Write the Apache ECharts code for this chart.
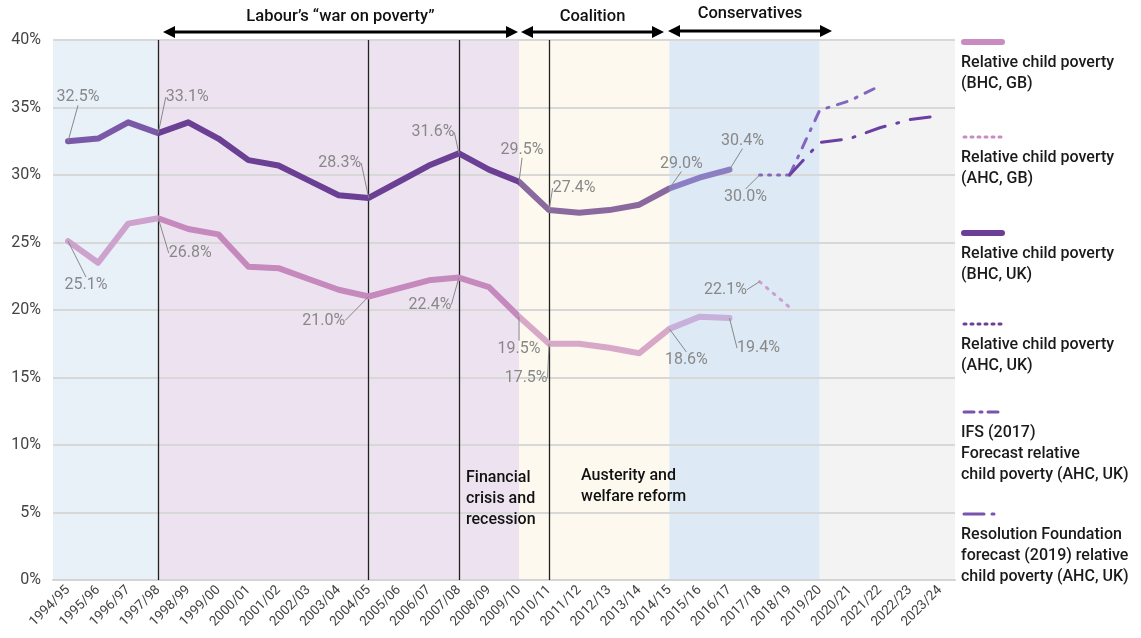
<!DOCTYPE html>
<html>
<head>
<meta charset="utf-8">
<script src="https://cdn.jsdelivr.net/npm/echarts@6/dist/echarts.min.js"></script>
<style>
  html, body { margin: 0; padding: 0; background: #fff; }
  #chart { width: 1141px; height: 638px; }
</style>
</head>
<body>
<div id="chart"></div>
<script>
// 年份
const years = ['1994/95','1995/96','1996/97','1997/98','1998/99','1999/00','2000/01','2001/02',
  '2002/03','2003/04','2004/05','2005/06','2006/07','2007/08','2008/09','2009/10','2010/11',
  '2011/12','2012/13','2013/14','2014/15','2015/16','2016/17','2017/18','2018/19','2019/20',
  '2020/21','2021/22','2022/23','2023/24']

const yTicks = [0, 5, 10, 15, 20, 25, 30, 35, 40]

// 数据 (%)
const bhcGB = [25.1, 23.5, 26.4, 26.8, 26.0, 25.6, 23.2, 23.1, 22.3, 21.5, 21.0, 21.6, 22.2, 22.4,
  21.7, 19.5, 17.5, 17.5, 17.2, 16.8, 18.6, 19.5, 19.4, null, null, null, null, null, null, null]
const ahcGB = [null, null, null, null, null, null, null, null, null, null, null, null, null, null,
  null, null, null, null, null, null, null, null, null, 22.1, 20.2, null, null, null, null, null]
const bhcUK = [32.5, 32.7, 33.9, 33.1, 33.9, 32.7, 31.1, 30.7, 29.6, 28.5, 28.3, 29.5, 30.7, 31.6,
  30.4, 29.5, 27.4, 27.2, 27.4, 27.8, 29.0, 29.8, 30.4, null, null, null, null, null, null, null]
const ahcUK = [null, null, null, null, null, null, null, null, null, null, null, null, null, null,
  null, null, null, null, null, null, null, null, null, 30.0, 30.0, null, null, null, null, null]
const ifsForecast = [null, null, null, null, null, null, null, null, null, null, null, null, null, null,
  null, null, null, null, null, null, null, null, null, null, 30.0, 34.8, 35.5, 36.6, null, null]
const rfForecast = [null, null, null, null, null, null, null, null, null, null, null, null, null, null,
  null, null, null, null, null, null, null, null, null, null, 30.0, 32.4, 32.7, 33.5, 34.1, 34.4]

// 标注的点及其偏移
const bhcGBLabels = { 0: [18, 44], 3: [32, 35], 10: [-45, 24], 13: [-29, 27], 15: [0, 32], 16: [-23, 34], 20: [17, 31], 22: [29, 30] }
const bhcUKLabels = { 0: [10, -44], 3: [29, -36], 10: [-29, -35], 13: [-26, -21], 15: [3, -32], 16: [25, -22], 20: [12, -25], 22: [13, -29] }
const ahcGBLabels = { 23: [-34, 8] }
const ahcUKLabels = { 23: [-14, 22] }

// 背景时期 (以类目索引计)
const periodEdges = [-0.5, 3, 15, 20, 25, 29.5]
const periodColors = ['#e8f0f8', '#ede3f0', '#fdf9ef', '#dde9f4', '#f3f3f3']
const eventLines = ['1997/98', '2004/05', '2007/08', '2010/11']

const chart = echarts.init(document.getElementById('chart'), null, { renderer: 'canvas' })
const FONT = 'Roboto, "Noto Sans", sans-serif'

const withLabels = (values, labels) => values.map((v, i) =>
  labels[i] ? { value: v, label: { show: true } } : v)

const labelOpts = {
  show: false,
  position: 'inside',
  formatter: (p) => p.value.toFixed(1) + '%',
  color: '#888',
  fontSize: 16,
  fontFamily: FONT
}
const labelLineOpts = { show: true, lineStyle: { color: '#888', width: 1 } }
const layoutFor = (labels) => (params) => {
  const o = labels[params.dataIndex]
  return o ? { dx: o[0], dy: o[1] } : {}
}

const lineSeries = (name, values, labels, style, z) => ({
  name,
  type: 'line',
  data: withLabels(values, labels),
  xAxisIndex: 0,
  symbol: 'circle',
  symbolSize: 0.01,
  connectNulls: false,
  lineStyle: style,
  label: labelOpts,
  labelLine: labelLineOpts,
  labelLayout: layoutFor(labels),
  z
})

const periodAreas = periodColors.map((c, i) => [
  { xAxis: periodEdges[i], itemStyle: { color: c } },
  { xAxis: periodEdges[i + 1] }
])

// 图例
const legendItems = [
  { y: 42, color: '#c98cc0', dash: null, width: 6, text: 'Relative child poverty\n(BHC, GB)' },
  { y: 137, color: '#c98cc0', dash: [2, 5], width: 3, text: 'Relative child poverty\n(AHC, GB)' },
  { y: 233, color: '#6b3f96', dash: null, width: 6, text: 'Relative child poverty\n(BHC, UK)' },
  { y: 324, color: '#6b3f96', dash: [2, 5], width: 3, text: 'Relative child poverty\n(AHC, UK)' },
  { y: 412, color: '#7a52b0', dash: [10, 6, 2, 6], width: 3, text: 'IFS (2017)\nForecast relative\nchild poverty (AHC, UK)' },
  { y: 514, color: '#7a52b0', dash: [20, 8, 2, 40], width: 3, text: 'Resolution Foundation\nforecast (2019) relative\nchild poverty (AHC, UK)' }
]
const legendGraphics = []
legendItems.forEach((it) => {
  legendGraphics.push({
    type: 'line',
    z: 100,
    shape: { x1: 964, y1: it.y, x2: 1002, y2: it.y },
    style: { stroke: it.color, lineWidth: it.width, lineDash: it.dash, lineCap: 'round' }
  })
  legendGraphics.push({
    type: 'text',
    z: 100,
    left: 961,
    top: it.y + 10,
    style: { text: it.text, fill: '#1a1a1a', font: '500 16px ' + FONT, lineHeight: 21 }
  })
})

// 顶部时期箭头
const arrows = [
  { x1: 163, x2: 518, y: 32, label: 'Labour’s “war on poverty”', ty: 17 },
  { x1: 521, x2: 664, y: 32, label: 'Coalition', ty: 17 },
  { x1: 668, x2: 832, y: 31, label: 'Conservatives', ty: 14 }
]
const arrowGraphics = []
arrows.forEach((a) => {
  arrowGraphics.push({
    type: 'line',
    z: 100,
    shape: { x1: a.x1 + 6, y1: a.y, x2: a.x2 - 6, y2: a.y },
    style: { stroke: '#000', lineWidth: 3 }
  })
  arrowGraphics.push({
    type: 'polygon',
    z: 100,
    shape: { points: [[a.x1, a.y], [a.x1 + 12, a.y - 6], [a.x1 + 12, a.y + 6]] },
    style: { fill: '#000' }
  })
  arrowGraphics.push({
    type: 'polygon',
    z: 100,
    shape: { points: [[a.x2, a.y], [a.x2 - 12, a.y - 6], [a.x2 - 12, a.y + 6]] },
    style: { fill: '#000' }
  })
  arrowGraphics.push({
    type: 'text',
    z: 100,
    x: (a.x1 + a.x2) / 2,
    y: a.ty,
    style: { text: a.label, fill: '#111', font: '500 16.5px ' + FONT, align: 'center', verticalAlign: 'middle' }
  })
})

const noteGraphics = [
  { type: 'text', z: 100, left: 466, top: 467,
    style: { text: 'Financial\ncrisis and\nrecession', fill: '#111', font: '500 16px ' + FONT, lineHeight: 21 } },
  { type: 'text', z: 100, left: 581, top: 465,
    style: { text: 'Austerity and\nwelfare reform', fill: '#111', font: '500 16px ' + FONT, lineHeight: 21 } }
]

const option = {
  animation: false,
  backgroundColor: '#fff',
  grid: { left: 53, right: 186, top: 40, bottom: 58 },
  xAxis: [
    {
      type: 'category',
      data: years,
      boundaryGap: true,
      axisLine: { show: true, lineStyle: { color: '#d4d4d4', width: 2 } },
      axisTick: { show: false },
      axisLabel: { rotate: 45, interval: 0, color: '#444', fontSize: 13.5, fontFamily: FONT, margin: 8 },
      splitLine: { show: false },
      z: 3
    },
    { type: 'value', min: -0.5, max: 29.5, show: false }
  ],
  yAxis: {
    type: 'value',
    min: yTicks[0],
    max: yTicks[yTicks.length - 1],
    interval: 5,
    axisLine: { show: false },
    axisTick: { show: false },
    axisLabel: { formatter: '{value}%', color: '#444', fontSize: 16, fontFamily: FONT, margin: 12 },
    splitLine: { lineStyle: { color: '#d8d8d8', width: 2 } },
    z: 2
  },
  visualMap: [
    {
      type: 'piecewise', show: false, dimension: 0, seriesIndex: 1,
      pieces: [
        { lte: 3, color: '#cda2cc' },
        { gt: 3, lte: 15, color: '#c589bd' },
        { gt: 15, lte: 20, color: '#d7a8c8' },
        { gt: 20, color: '#c7b0da' }
      ]
    },
    {
      type: 'piecewise', show: false, dimension: 0, seriesIndex: 3,
      pieces: [
        { lte: 3, color: '#7a5aa8' },
        { gt: 3, lte: 15, color: '#6a3f94' },
        { gt: 15, lte: 20, color: '#8a6a9e' },
        { gt: 20, color: '#8c7ec2' }
      ]
    }
  ],
  graphic: [...legendGraphics, ...arrowGraphics, ...noteGraphics],
  series: [
    {
      name: 'periods',
      type: 'line',
      xAxisIndex: 1,
      data: [],
      silent: true,
      z: 1,
      markArea: { silent: true, data: periodAreas }
    },
    lineSeries('Relative child poverty (BHC, GB)', bhcGB, bhcGBLabels,
      { width: 6, cap: 'round', join: 'round' }, 5),
    lineSeries('Relative child poverty (AHC, GB)', ahcGB, ahcGBLabels,
      { color: '#c9a0d0', width: 3, type: [2, 7], cap: 'round' }, 5),
    lineSeries('Relative child poverty (BHC, UK)', bhcUK, bhcUKLabels,
      { width: 6, cap: 'round', join: 'round' }, 5),
    lineSeries('Relative child poverty (AHC, UK)', ahcUK, ahcUKLabels,
      { color: '#8468b8', width: 3, type: [2, 7], cap: 'round' }, 5),
    lineSeries('IFS (2017) forecast', ifsForecast, {},
      { color: '#8466bf', width: 3, type: [10, 9, 2, 9], cap: 'round' }, 5),
    lineSeries('Resolution Foundation forecast (2019)', rfForecast, {},
      { color: '#6c40a2', width: 3, type: [20, 12, 2, 12], cap: 'round' }, 5),
    {
      name: 'events',
      type: 'line',
      xAxisIndex: 0,
      data: [],
      z: 6,
      markLine: {
        silent: true,
        symbol: 'none',
        label: { show: false },
        lineStyle: { color: '#222', width: 1.3, type: 'solid' },
        data: eventLines.map((y) => ({ xAxis: y }))
      }
    }
  ]
}

chart.setOption(option)
</script>
</body>
</html>
